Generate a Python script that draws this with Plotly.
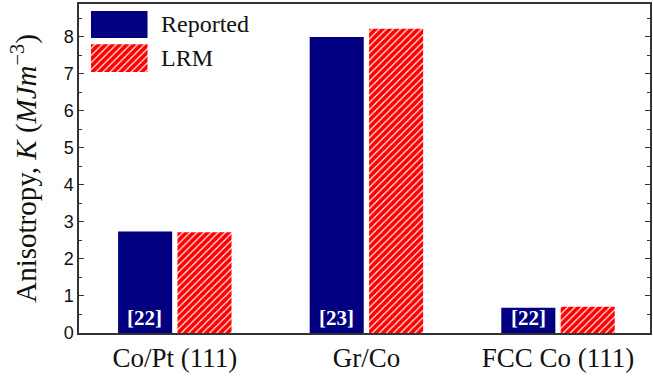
import plotly.graph_objects as go

# Data
categories = ["Co/Pt (111)", "Gr/Co", "FCC Co (111)"]
reported = [2.74, 8.0, 0.68]
lrm = [2.72, 8.22, 0.71]
ref_labels = ["[22]", "[23]", "[22]"]
series_names = ["Reported", "LRM"]

NAVY = "#000080"
RED = "#ff0000"
SERIF = "Liberation Serif, Times New Roman, serif"
SANS = "Liberation Sans, Arial, sans-serif"

hatch = dict(shape="/", fgcolor="white", bgcolor=RED, size=5, solidity=0.22,
             fillmode="replace")

fig = go.Figure()
fig.add_trace(go.Bar(
    x=categories, y=reported, name=series_names[0],
    marker=dict(color=NAVY, line=dict(width=0)),
    showlegend=False,
))
fig.add_trace(go.Bar(
    x=categories, y=lrm, name=series_names[1],
    marker=dict(color=RED, line=dict(width=0), pattern=hatch),
    showlegend=False,
))

# Citation tags sitting at the foot of each "Reported" bar
for cat, lab in zip(categories, ref_labels):
    fig.add_annotation(
        x=cat, y=0, xref="x", yref="y", text=f"<b>{lab}</b>", showarrow=False,
        xanchor="center", yanchor="bottom", xshift=-30, yshift=1,
        font=dict(family=SERIF, size=21, color="white"),
    )

# Legend keys drawn as large swatches on an overlay axis (0..1 in plot-area units)
key_x = 0.0705
key_w = 0.099
key_bases = [0.897, 0.793]
key_heights = [0.082, 0.085]
key_markers = [
    dict(color=NAVY, line=dict(width=0)),
    dict(color=RED, line=dict(width=0), pattern=hatch),
]
for b, h, m in zip(key_bases, key_heights, key_markers):
    fig.add_trace(go.Bar(
        x=[key_x], y=[h], base=[b], width=[key_w], offset=[-key_w / 2],
        xaxis="x2", yaxis="y2", marker=m,
        showlegend=False, hoverinfo="skip",
    ))
for name, b, h in zip(series_names, key_bases, key_heights):
    fig.add_annotation(
        x=0.14, y=b + h / 2, xref="x2", yref="y2", text=name, showarrow=False,
        xanchor="left", yanchor="middle",
        font=dict(family=SERIF, size=24, color="#111"),
    )

axis_line = dict(showline=True, linecolor="#333", linewidth=1.5, mirror=True)

fig.update_layout(
    width=653, height=380,
    margin=dict(l=79, r=1, t=4, b=47),
    paper_bgcolor="white", plot_bgcolor="white",
    barmode="group", bargap=0.38, bargroupgap=0.09,
    xaxis=dict(
        **axis_line, range=[-0.5, 2.48], ticks="", showgrid=False,
        tickfont=dict(family=SERIF, size=27, color="#111"),
    ),
    yaxis=dict(
        showline=True, linecolor="#333", linewidth=1.5, mirror="ticks",
        range=[0, 8.89], dtick=1, ticks="inside", ticklen=5, tickcolor="#333",
        showgrid=False, zeroline=False,
        minor=dict(dtick=0.5, ticks="inside", ticklen=3, tickcolor="#333"),
        tickfont=dict(family=SANS, size=18, color="#111"),
        title=dict(
            text="Anisotropy, <i>K</i> (<i>MJm</i><sup>−3</sup>)",
            font=dict(family=SERIF, size=29, color="#111"), standoff=18,
        ),
    ),
    xaxis2=dict(overlaying="x", range=[0, 1], visible=False),
    yaxis2=dict(overlaying="y", range=[0, 1], visible=False),
)

fig.write_html("out.html")
